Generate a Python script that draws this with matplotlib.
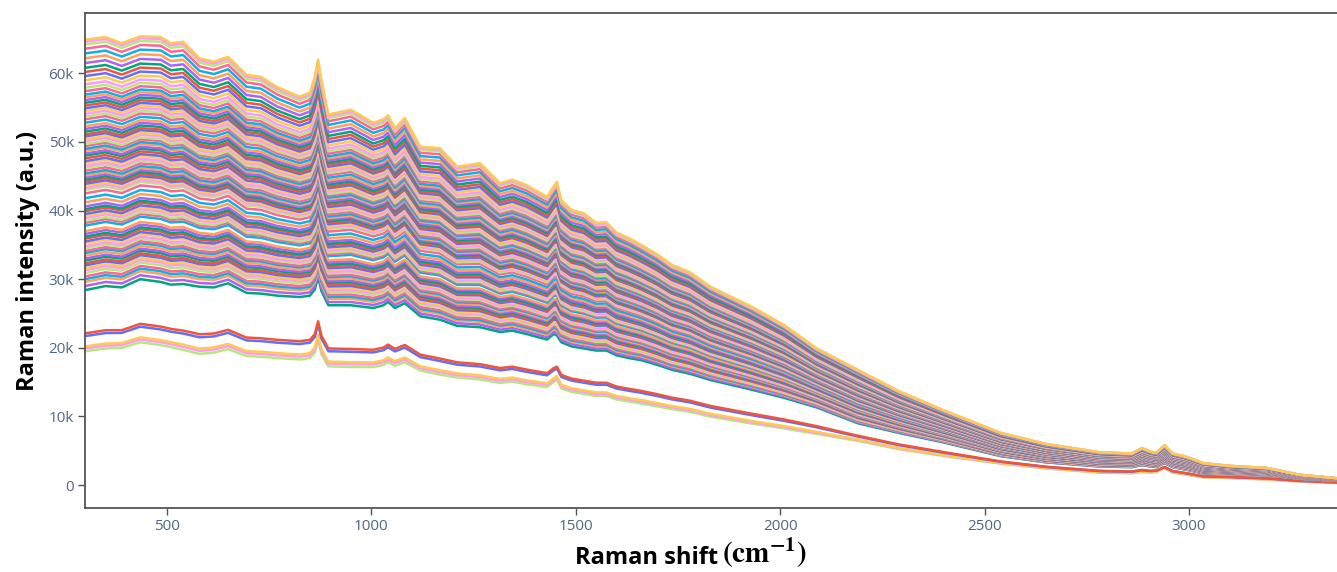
import numpy as np
import matplotlib
matplotlib.use("Agg")
import matplotlib.pyplot as plt
from matplotlib.ticker import FuncFormatter

# Raman shift grid (cm-1) shared by the three reference profiles
shift = [300, 350, 390, 435, 485, 510, 540, 580, 615, 650, 695, 730, 770, 825,
         850, 862, 870, 878, 895, 950, 1005, 1030, 1041, 1058, 1082, 1120, 1168,
         1210, 1266, 1315, 1345, 1380, 1430, 1446, 1454, 1465, 1490, 1520, 1550,
         1575, 1600, 1630, 1660, 1700, 1735, 1780, 1830, 1930, 2010, 2090, 2190,
         2290, 2400, 2540, 2650, 2780, 2860, 2885, 2905, 2920, 2940, 2960, 2995,
         3035, 3100, 3190, 3270, 3360]

# highest spectrum (k counts)
top_profile = [64.9, 65.3, 64.4, 65.4, 65.3, 64.4, 64.6, 62.2, 61.7, 62.4, 59.8,
               59.5, 58.0, 56.6, 57.2, 59.5, 62.0, 59.0, 54.0, 54.7, 52.8, 53.3,
               53.9, 52.0, 53.5, 49.3, 49.1, 46.4, 46.9, 44.0, 44.5, 43.7, 42.0,
               43.5, 44.2, 41.5, 40.1, 39.6, 38.2, 38.3, 36.8, 36.0, 35.0, 33.6,
               32.1, 31.0, 28.9, 26.0, 23.3, 19.9, 16.8, 13.7, 10.9, 7.6, 6.0,
               4.8, 4.6, 5.4, 4.9, 4.7, 5.8, 4.6, 4.1, 3.2, 2.8, 2.5, 1.5, 1.0]

# lowest spectrum of the main group
mid_profile = [28.4, 29.0, 28.8, 30.0, 29.6, 29.2, 29.3, 28.9, 28.8, 29.4, 28.0,
               27.9, 27.6, 27.4, 27.6, 28.5, 30.3, 28.3, 26.2, 26.2, 25.8, 26.2,
               26.7, 25.8, 26.5, 24.6, 24.1, 23.2, 23.0, 22.3, 22.5, 22.0, 21.2,
               22.0, 21.8, 20.8, 20.2, 19.9, 19.6, 19.6, 18.9, 18.5, 18.2, 17.5,
               16.8, 16.2, 15.3, 13.9, 12.7, 11.3, 9.0, 7.6, 6.2, 4.2, 3.3,
               2.7, 2.6, 2.9, 2.7, 2.6, 3.2, 2.6, 2.2, 1.7, 1.6, 1.4, 0.9, 0.6]

# lowest spectrum overall
low_profile = [19.4, 19.8, 19.9, 20.7, 20.3, 20.0, 19.6, 19.0, 19.2, 19.7, 18.7,
               18.6, 18.4, 18.2, 18.4, 19.2, 21.1, 19.0, 17.2, 17.1, 17.1, 17.4,
               17.8, 17.3, 17.8, 16.6, 16.0, 15.6, 15.3, 14.8, 15.0, 14.6, 14.2,
               14.9, 15.3, 14.0, 13.5, 13.2, 12.9, 12.9, 12.4, 12.1, 11.8, 11.4,
               11.0, 10.6, 9.9, 8.9, 8.2, 7.4, 6.4, 5.2, 4.2, 3.1, 2.4,
               1.8, 1.7, 1.9, 1.8, 1.9, 2.4, 1.8, 1.5, 1.1, 1.0, 0.8, 0.5, 0.3]

# intensity of every spectrum at 300 cm-1 (k counts)
start_levels = [19.5, 19.9, 20.2, 21.7, 22.1,
                28.4, 29.0, 29.6, 30.0, 30.4, 30.9, 31.3, 31.6, 32.0, 32.3, 32.7,
                33.0, 33.4, 33.8, 34.1, 34.5, 34.8, 35.2, 35.5, 35.9, 36.2, 36.6,
                37.0, 37.8, 38.2, 38.5, 38.9, 39.2, 39.5, 39.9, 40.2, 40.6, 41.2,
                41.8, 42.5, 43.0, 43.3, 43.6, 43.9, 44.2, 44.5, 44.8, 45.1, 45.4,
                45.8, 46.2, 46.5, 46.9, 47.2, 47.6, 48.0, 48.3, 48.7, 49.0, 49.4,
                49.7, 50.1, 50.4, 50.8, 51.1, 51.5, 51.9, 52.3, 52.8, 53.3, 53.7,
                54.1, 54.5, 54.9, 55.3, 55.7, 56.1, 56.5, 56.9, 57.4, 57.9, 58.4,
                59.0, 59.6, 60.2, 60.8, 61.5, 62.2, 62.9, 63.6, 64.2, 64.6, 64.9]

palette = ['#636EFA', '#EF553B', '#00A67D', '#AB63FA', '#FFA15A',
           '#14AEE6', '#FF6692', '#B6E880', '#FF97FF', '#FECB52']

x = np.array(shift)
top = np.array(top_profile) * 1000
mid = np.array(mid_profile) * 1000
low = np.array(low_profile) * 1000

plt.rcParams['mathtext.fontset'] = 'stix'

fig = plt.figure(figsize=(13.37, 5.72), dpi=100)
ax = fig.add_axes([0.0636, 0.1119, 0.9364, 0.8654])

n = len(start_levels)
for i, lev in enumerate(start_levels):
    lev = lev * 1000
    if lev <= mid[0]:
        w = (lev - low[0]) / (mid[0] - low[0])
        y = low + w * (mid - low)
    else:
        w = (lev - mid[0]) / (top[0] - mid[0])
        y = mid + w * (top - mid)
    c = palette[(i + 10 - n % 10) % 10]
    ax.plot(x, y, color=c, lw=1.8, solid_joinstyle='round')

ax.set_xlim(300, 3362)
ax.set_ylim(-3350, 68800)
ax.set_xticks([500, 1000, 1500, 2000, 2500, 3000])
ax.set_yticks([0, 10000, 20000, 30000, 40000, 50000, 60000])
ax.yaxis.set_major_formatter(FuncFormatter(lambda v, p: "0" if v == 0 else f"{int(v/1000)}k"))

for s in ['left', 'bottom', 'top']:
    ax.spines[s].set_color('#555555')
    ax.spines[s].set_linewidth(1.3)
ax.spines['right'].set_visible(False)

ax.tick_params(axis='both', direction='out', length=5, width=1, color='#555555',
               labelcolor='#506784', labelsize=11, pad=3)
for lab in ax.get_xticklabels() + ax.get_yticklabels():
    lab.set_fontfamily('Open Sans')

ax.set_ylabel("Raman intensity (a.u.)", fontsize=17, fontweight='bold',
              family='Open Sans', color='black', labelpad=6)

# x title: sans part + serif math unit
fig.text(0.537, 0.004, "Raman shift", fontsize=17, fontweight='bold',
         family='Open Sans', ha='right', va='bottom')
fig.text(0.540, 0.004, r"$\mathbf{(cm^{-1})}$", fontsize=21,
         ha='left', va='bottom')

fig.savefig("out.png", dpi=100)
